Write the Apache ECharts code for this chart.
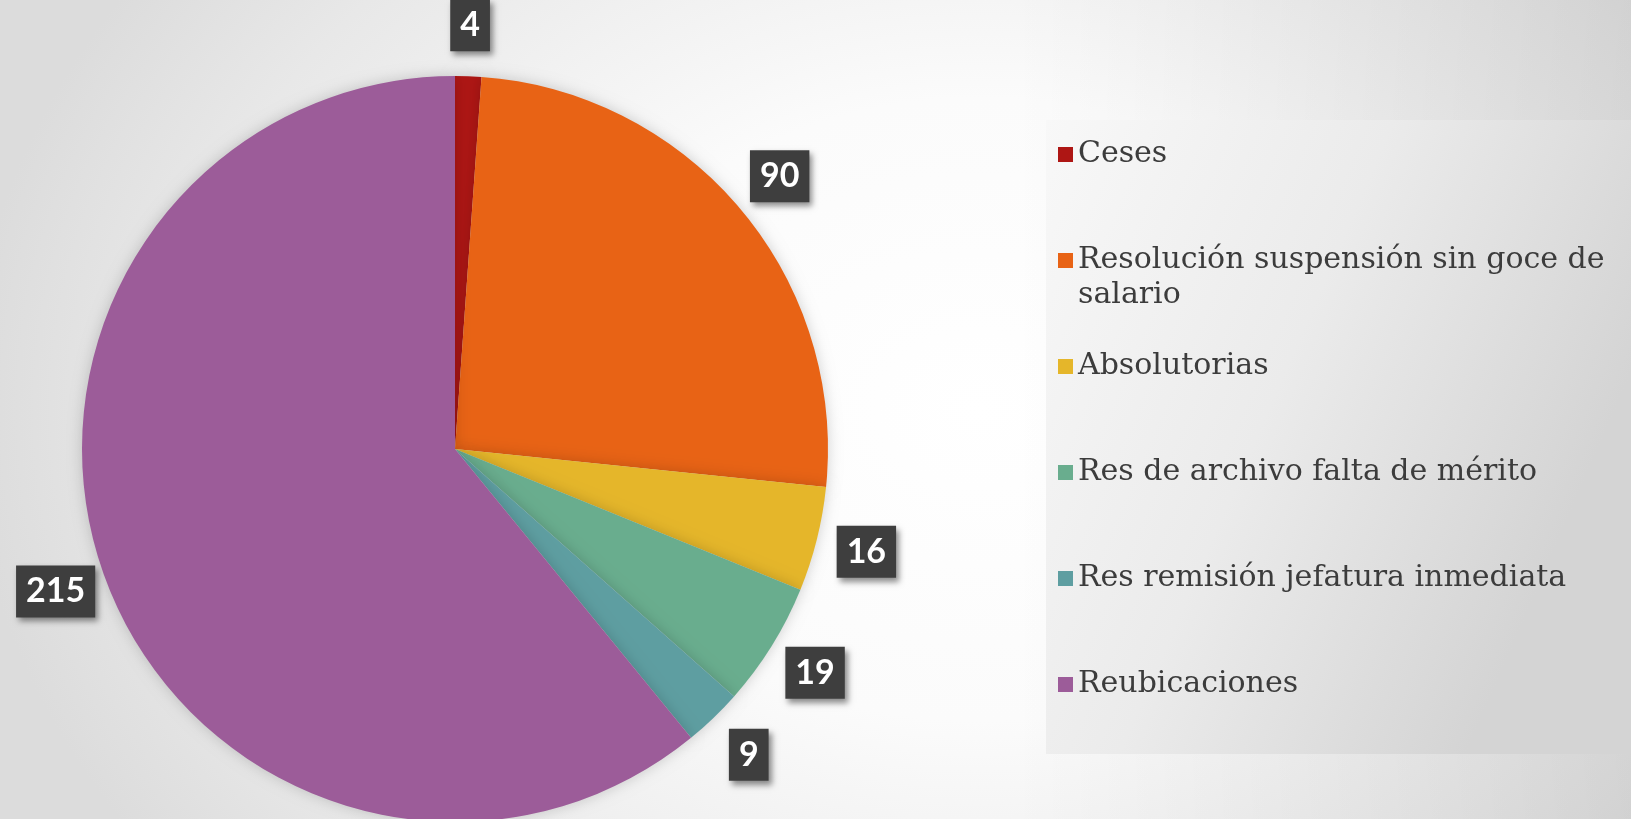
<!DOCTYPE html>
<html>
<head>
<meta charset="utf-8">
<script src="https://cdn.jsdelivr.net/npm/echarts@6/dist/echarts.min.js"></script>
<style>
html,body{margin:0;padding:0;}
#chart{
  width:1631px;height:819px;
  background:
    linear-gradient(to right, rgba(0,0,0,0) 0%, rgba(0,0,0,0) 62%, rgba(0,0,0,0.09) 100%),
    radial-gradient(ellipse 62% 95% at 60% 50%, #ffffff 0%, #fbfbfb 40%, #e8e8e8 80%, #dcdcdc 100%);
}
</style>
</head>
<body>
<div id="chart"></div>
<script>
var categories = [
  'Ceses',
  'Resolución suspensión sin goce de salario',
  'Absolutorias',
  'Res de archivo falta de mérito',
  'Res remisión jefatura inmediata',
  'Reubicaciones'
];
var values = [4, 90, 16, 19, 9, 215];
var colors = ['#ae1614', '#e86315', '#e5b62a', '#69ad8e', '#5e9ea1', '#9c5c99'];

var pieData = categories.map(function (c, i) {
  return { name: c, value: values[i], itemStyle: { color: colors[i] } };
});
var labelData = categories.map(function (c, i) {
  return { name: c, value: values[i] };
});

var chart = echarts.init(document.getElementById('chart'), null, { renderer: 'canvas' });
chart.setOption({
  animation: false,
  backgroundColor: 'transparent',
  graphic: [{
    type: 'rect', left: 1046, top: 120, z: 0, silent: true,
    shape: { width: 585, height: 634 },
    style: {
      fill: new echarts.graphic.LinearGradient(0, 0, 1, 0.4, [
        { offset: 0, color: '#f8f8f8' },
        { offset: 0.5, color: '#ebebeb' },
        { offset: 1, color: '#d4d4d4' }
      ])
    }
  }],
  legend: {
    orient: 'vertical',
    left: 1058,
    top: 102,
    padding: 0,
    itemGap: 1,
    itemWidth: 15,
    itemHeight: 15,
    icon: 'rect',
    selectedMode: false,
    data: categories,
    formatter: function (name) {
      if (name === categories[1]) {
        return ' \nResolución suspensión sin goce de\nsalario';
      }
      return ' \n' + name + '\n ';
    },
    textStyle: {
      fontFamily: 'DejaVu Serif',
      fontSize: 30,
      lineHeight: 35,
      color: '#3c3c3c'
    }
  },
  series: [{
    type: 'pie',
    center: [455, 449],
    radius: [0, 373],
    startAngle: 90,
    clockwise: true,
    label: { show: false },
    labelLine: { show: false },
    silent: true,
    itemStyle: {
      borderWidth: 0,
      shadowBlur: 14,
      shadowColor: 'rgba(0,0,0,0.18)'
    },
    data: pieData
  }, {
    type: 'pie',
    center: [455, 449],
    radius: [373, 469],
    startAngle: 90,
    clockwise: true,
    silent: true,
    legendHoverLink: false,
    itemStyle: { color: 'rgba(0,0,0,0)' },
    labelLine: { show: false },
    label: {
      show: true,
      position: 'inside',
      formatter: '{c}',
      color: '#ffffff',
      fontFamily: 'Lato',
      fontWeight: 'bold',
      fontSize: 34,
      lineHeight: 36,
      backgroundColor: '#3e3e3e',
      padding: [8, 10, 8, 10],
      shadowColor: 'rgba(0,0,0,0.45)',
      shadowBlur: 6,
      shadowOffsetX: 3,
      shadowOffsetY: 4
    },
    data: labelData
  }]
});
</script>
</body>
</html>
